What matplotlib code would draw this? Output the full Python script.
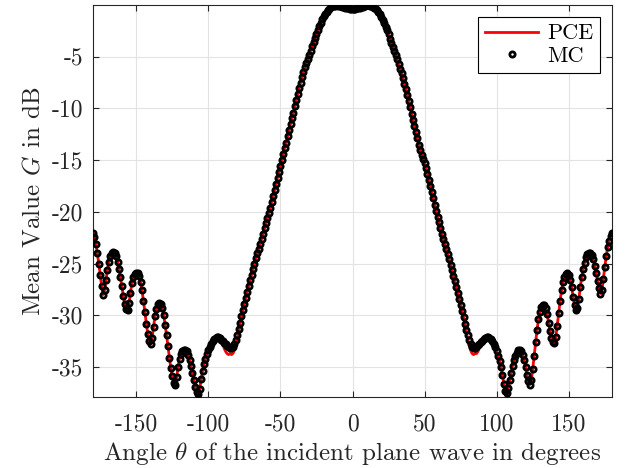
"""Mean value G (dB) versus incident angle: PCE curve against MC samples."""

import matplotlib
matplotlib.use('Agg')
import matplotlib.pyplot as plt
import numpy as np

# ---------------------------------------------------------------------------
# Data (1 degree step)
# ---------------------------------------------------------------------------

# theta = -180 ... -1 deg
mc_left_db = [
    -22.0, -22.4, -23.1, -24.0, -25.0, -26.1, -27.2, -28.0, -27.6, -26.6,
    -25.6, -24.8, -24.3, -24.0, -23.9, -24.0, -24.3, -24.8, -25.5, -26.3,
    -27.2, -28.1, -28.9, -29.4, -29.5, -28.8, -27.8, -26.9, -26.3, -26.0,
    -25.9, -25.9, -26.2, -26.8, -27.6, -28.6, -29.7, -30.8, -31.8, -32.5,
    -32.8, -32.2, -31.1, -30.1, -29.4, -28.9, -28.8, -28.9, -29.3, -30.0,
    -30.9, -31.9, -33.0, -34.1, -35.1, -35.9, -36.5, -36.7, -36.0, -35.0,
    -34.2, -33.7, -33.5, -33.4, -33.4, -33.5, -33.8, -34.3, -34.9, -35.6,
    -36.3, -36.9, -37.4, -37.6, -37.1, -36.2, -35.4, -34.7, -34.2, -33.7,
    -33.4, -33.1, -32.8, -32.5, -32.3, -32.15, -32.1, -32.1, -32.2, -32.35,
    -32.5, -32.65, -32.8, -32.95, -33.05, -33.15, -33.2, -33.1, -32.8, -32.4,
    -31.9, -31.3, -30.7, -30.1, -29.5, -28.9, -28.3, -27.7, -27.2, -26.6,
    -26.1, -25.5, -25.0, -24.5, -24.0, -23.6, -23.1, -22.6, -22.1, -21.6,
    -21.1, -20.6, -20.1, -19.6, -19.0, -18.5, -17.9, -17.3, -16.7, -16.1,
    -15.6, -15.0, -14.4, -13.8, -13.3, -12.7, -12.1, -11.5, -10.9, -10.4,
    -9.8, -9.2, -8.6, -8.0, -7.5, -7.0, -6.5, -6.0, -5.6, -5.2,
    -4.8, -4.4, -4.0, -3.6, -3.2, -2.8, -2.4, -2.0, -1.7, -1.4,
    -1.1, -0.85, -0.65, -0.48, -0.34, -0.23, -0.14, -0.08, -0.05, -0.04,
    -0.05, -0.08, -0.12, -0.17, -0.22, -0.26, -0.3, -0.32, -0.34, -0.35,
]

# theta = 0 ... 180 deg
mc_right_db = [
    -0.35,
    -0.35, -0.34, -0.32, -0.29, -0.25, -0.2, -0.15, -0.1, -0.06, -0.04,
    -0.04, -0.06, -0.1, -0.16, -0.25, -0.37, -0.52, -0.7, -0.9, -1.15,
    -1.45, -1.75, -2.1, -2.45, -2.85, -3.25, -3.65, -4.05, -4.45, -4.85,
    -5.25, -5.7, -6.15, -6.6, -7.1, -7.6, -8.1, -8.7, -9.3, -9.9,
    -10.5, -11.1, -11.7, -12.3, -12.9, -13.5, -14.0, -14.5, -14.9, -15.3,
    -15.8, -16.3, -16.9, -17.5, -18.1, -18.7, -19.3, -19.9, -20.5, -21.0,
    -21.6, -22.1, -22.6, -23.1, -23.6, -24.1, -24.6, -25.1, -25.6, -26.2,
    -26.7, -27.3, -27.8, -28.4, -29.0, -29.6, -30.2, -30.8, -31.4, -31.9,
    -32.4, -32.8, -33.1, -33.2, -33.15, -33.05, -32.9, -32.75, -32.6, -32.45,
    -32.3, -32.2, -32.1, -32.1, -32.15, -32.3, -32.5, -32.8, -33.1, -33.5,
    -33.9, -34.4, -35.0, -35.8, -36.6, -37.3, -37.5, -37.0, -36.3, -35.6,
    -34.9, -34.3, -33.9, -33.6, -33.4, -33.4, -33.5, -33.8, -34.3, -35.0,
    -35.8, -36.4, -36.7, -36.3, -35.2, -33.9, -32.6, -31.4, -30.4, -29.7,
    -29.2, -29.0, -29.0, -29.3, -29.9, -30.7, -31.5, -32.2, -32.6, -32.7,
    -32.1, -31.0, -29.8, -28.6, -27.6, -26.8, -26.3, -26.0, -25.9, -26.1,
    -26.6, -27.3, -28.2, -29.0, -29.5, -29.3, -28.4, -27.3, -26.3, -25.5,
    -24.9, -24.4, -24.1, -24.0, -24.0, -24.2, -24.6, -25.2, -25.9, -26.7,
    -27.4, -27.9, -27.6, -26.5, -25.3, -24.3, -23.4, -22.8, -22.3, -22.0,
]

# angles where the PCE line departs visibly from the MC markers
pce_dev_deg = [
    -108, -107, -90, -89, -88, -87, -86, -85, -84, -83, -82, -81, -80, -79,
    79, 80, 81, 82, 83, 84, 85, 86, 87, 88, 89, 106, 107,
]
pce_dev_db = [
    -37.8, -38.1, -32.8, -33.2, -33.5, -33.7, -33.8, -33.7, -33.8, -33.7, -33.4, -32.9, -32.3, -31.6,
    -31.7, -32.3, -32.9, -33.4, -33.7, -33.8, -33.7, -33.7, -33.5, -33.2, -32.9, -37.6, -38.0,
]

x_ticks = [-150, -100, -50, 0, 50, 100, 150]
x_tick_labels = ['-150', '-100', '-50', '0', '50', '100', '150']
y_ticks = [-35, -30, -25, -20, -15, -10, -5]
y_tick_labels = ['-35', '-30', '-25', '-20', '-15', '-10', '-5']

# ---------------------------------------------------------------------------
# Style
# ---------------------------------------------------------------------------

plt.rcParams['font.family'] = 'serif'
plt.rcParams['font.serif'] = ['cmr10', 'DejaVu Serif']
plt.rcParams['mathtext.fontset'] = 'cm'
plt.rcParams['axes.unicode_minus'] = False
plt.rcParams['axes.formatter.use_mathtext'] = True

AX_COLOR = '#262626'


def main() -> None:
    theta = np.arange(-180, 181)
    mc_db = np.array(mc_left_db + mc_right_db)
    pce_db = mc_db.copy()
    pce_db[np.array(pce_dev_deg) + 180] = pce_dev_db

    fig = plt.figure(figsize=(6.27, 4.68), dpi=100)
    ax = fig.add_axes([93 / 627, 71 / 468, 519 / 627, 392 / 468])

    ax.plot(theta, pce_db, color='red', linewidth=2.0, label='PCE', zorder=2)
    ax.plot(
        theta, mc_db, linestyle='none', marker='o', markersize=3.8,
        markerfacecolor='none', markeredgecolor='black', markeredgewidth=2.0,
        label='MC', zorder=3,
    )

    ax.set_xlim(-180, 180)
    ax.set_ylim(-37.9, 0)
    ax.set_xticks(x_ticks)
    ax.set_xticklabels(x_tick_labels)
    ax.set_yticks(y_ticks)
    ax.set_yticklabels(y_tick_labels)

    ax.grid(True, color='#e3e3e3', linewidth=0.8)
    ax.set_axisbelow(True)
    for s in ax.spines.values():
        s.set_color(AX_COLOR)
        s.set_linewidth(0.8)
    ax.tick_params(direction='in', top=True, right=True, length=4.5, width=0.8,
                   color=AX_COLOR, labelsize=17, labelcolor='#262626')
    ax.tick_params(axis='x', pad=12)
    ax.tick_params(axis='y', pad=7)

    ax.set_xlabel(r'Angle $\theta$ of the incident plane wave in degrees',
                  fontsize=18, color='#262626', labelpad=3)
    ax.set_ylabel(r'Mean Value $G$ in dB', fontsize=18, color='#262626', labelpad=5)

    leg = ax.legend(loc='upper right', bbox_to_anchor=(0.977, 0.969), borderaxespad=0,
                    fontsize=16, fancybox=False, framealpha=1, edgecolor='black',
                    handlelength=2.4, handletextpad=0.4, borderpad=0.3, labelspacing=0.15)
    leg.get_frame().set_linewidth(0.8)

    fig.savefig('out.png', dpi=100)


if __name__ == '__main__':
    main()
